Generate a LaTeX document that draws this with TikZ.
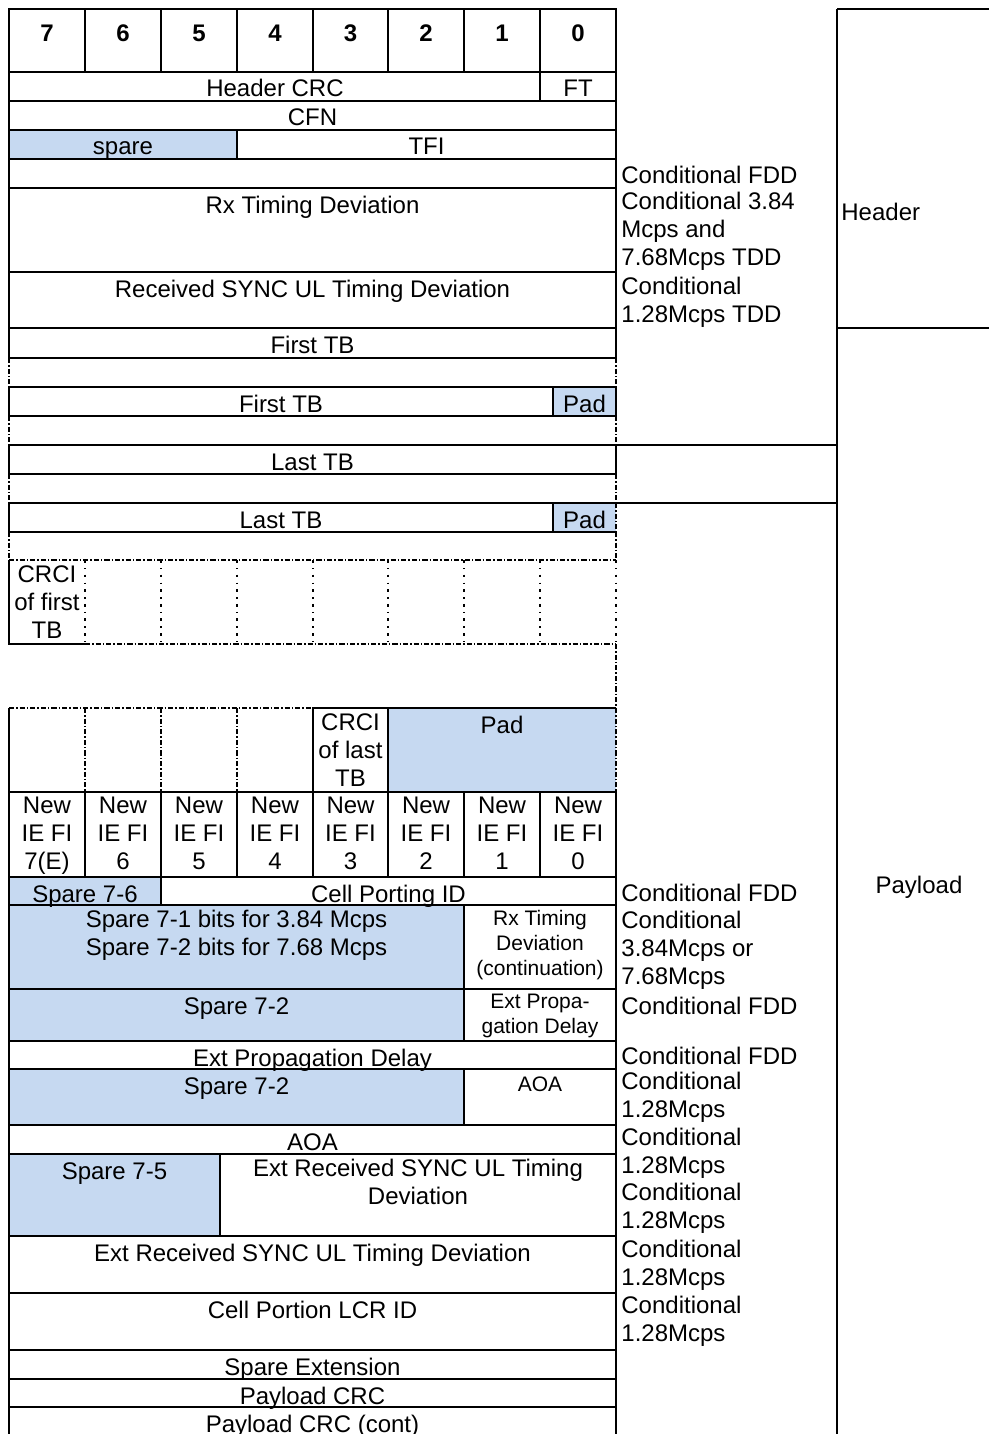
\documentclass[tikz,border=0pt]{standalone}
\usepackage{fontspec}
\setmainfont{Liberation Sans}
\usetikzlibrary{positioning}
\definecolor{sparefill}{RGB}{198,217,241}

\begin{document}
\begin{tikzpicture}[x=0.5pt, y=-0.5pt,
    grid/.style={line width=0.75pt},
    dashdot/.style={line width=0.85pt, dash pattern=on 2.6pt off 1pt on 0.7pt off 1pt},
    faint/.style={line width=0.7pt, dash pattern=on 1.4pt off 2.6pt on 0.7pt off 2.6pt},
    sparecell/.style={fill=sparefill},
    lbl/.style={font=\fontsize{12}{14}\selectfont, inner sep=0pt, anchor=north, align=center, execute at begin node=\strut},
    lblsmall/.style={lbl, font=\fontsize{10.5}{12.5}\selectfont},
    bitnum/.style={lbl, font=\bfseries\fontsize{12}{14}\selectfont},
    cond/.style={lbl, anchor=north west, align=left}]
    \useasboundingbox (0,0) rectangle (989,1434);
    % Fills
    \fill[sparecell] (9,130) rectangle (237,159);
    \fill[sparecell] (553,387) rectangle (616,416);
    \fill[sparecell] (553,503) rectangle (616,532);
    \fill[sparecell] (388,708) rectangle (616,792);
    \fill[sparecell] (9,877) rectangle (161,905);
    \fill[sparecell] (9,905) rectangle (464,989);
    \fill[sparecell] (9,989) rectangle (464,1041);
    \fill[sparecell] (9,1069) rectangle (464,1125);
    \fill[sparecell] (9,1154) rectangle (220,1236);
    % Header part
    \foreach \xa/\xb/\b in {9/85/7,85/161/6,161/237/5,237/313/4,313/388/3,388/464/2,464/540/1,540/616/0} {
        \draw[grid] (\xa,9) rectangle (\xb,72);
        \node[bitnum] (bit\b) at ({(\xa+\xb)/2},22) {\b};
    }
    \draw[grid] (9,72) rectangle (540,101) (540,72) rectangle (616,101);
    \draw[grid] (9,101) rectangle (616,130);
    \draw[grid] (9,130) rectangle (237,159) (237,130) rectangle (616,159);
    \draw[grid] (9,159) rectangle (616,188);
    \draw[grid] (9,188) rectangle (616,272);
    \draw[grid] (9,272) rectangle (616,328);
    \node[lbl] (hcrc) at (275,77) {Header CRC};
    \node[lbl] (ft) at (578,77) {FT};
    \node[lbl] (cfn) at (312.5,106) {CFN};
    \node[lbl] (spare) at (123,135) {spare};
    \node[lbl] (tfi) at (426.5,135) {TFI};
    \node[lbl] (rxtd) at (312.5,193) {Rx Timing Deviation};
    \node[lbl] (rsync) at (312.5,277) {Received SYNC UL Timing Deviation};
    % Transport blocks
    \draw[grid] (9,328) rectangle (616,358);
    \draw[grid] (9,387) rectangle (553,416) (553,387) rectangle (616,416);
    \draw[grid] (9,445) rectangle (616,474);
    \draw[grid] (616,532) -- (9,532) -- (9,503) -- (616,503) (553,503) -- (553,532);
    \draw[dashdot] (616,503) -- (616,532);
    \foreach \ya/\yb in {358/387,416/445,474/503,532/560} {
        \draw[dashdot] (9,\ya) -- (9,\yb) (616,\ya) -- (616,\yb);
    }
    \node[lbl] (ftba) at (312.5,333) {First TB};
    \node[lbl] (ftbb) at (281,392) {First TB};
    \node[lbl] (pada) at (584.5,392) {Pad};
    \node[lbl] (ltba) at (312.5,450) {Last TB};
    \node[lbl] (ltbb) at (281,508) {Last TB};
    \node[lbl] (padb) at (584.5,508) {Pad};
    % CRC indicators
    \draw[dashdot] (9,560) -- (616,560) (85,644) -- (616,644);
    \draw[grid] (9,560) -- (9,644) -- (85,644);
    \foreach \x in {85,161,237,313,388,464,540,616} {
        \draw[faint] (\x,560) -- (\x,644);
    }
    \draw[dashdot] (616,644) -- (616,708);
    \draw[dashdot] (9,708) -- (313,708);
    \draw[grid] (9,708) -- (9,792) (313,708) -- (616,708) (313,708) rectangle (388,792);
    \foreach \x in {85,161,237} {
        \draw[dashdot] (\x,708) -- (\x,792);
    }
    \draw[dashdot] (616,708) -- (616,792);
    \node[lbl] (crcif) at (47,565) {CRCI\\of first\\TB};
    \node[lbl] (crcil) at (350.5,713) {CRCI\\of last\\TB};
    \node[lbl] (padc) at (502,713) {Pad};
    % New IE flags
    \foreach \xa/\xb/\n/\t in {9/85/7/7(E),85/161/6/6,161/237/5/5,237/313/4/4,313/388/3/3,388/464/2/2,464/540/1/1,540/616/0/0} {
        \draw[grid] (\xa,792) rectangle (\xb,877);
        \node[lbl] (nie\n) at ({(\xa+\xb)/2},797) {New\\IE FI\\\t};
    }
    % Optional fields
    \draw[grid] (9,877) rectangle (161,905) (161,877) rectangle (616,905);
    \draw[grid] (9,905) rectangle (464,989) (464,905) rectangle (616,989);
    \draw[grid] (9,989) rectangle (464,1041) (464,989) rectangle (616,1041);
    \draw[grid] (9,1041) rectangle (616,1069);
    \draw[grid] (9,1069) rectangle (464,1125) (464,1069) rectangle (616,1125);
    \draw[grid] (9,1125) rectangle (616,1154);
    \draw[grid] (9,1154) rectangle (220,1236) (220,1154) rectangle (616,1236);
    \draw[grid] (9,1236) rectangle (616,1293);
    \draw[grid] (9,1293) rectangle (616,1350);
    \draw[grid] (9,1350) rectangle (616,1379);
    \draw[grid] (9,1379) rectangle (616,1407);
    \draw[grid] (9,1407) -- (9,1434) (616,1407) -- (616,1434);
    \node[lbl] (spsix) at (85,882) {Spare 7-6};
    \node[lbl] (cpid) at (388.5,882) {Cell Porting ID};
    \node[lbl] (spone) at (236.5,910) {Spare 7-1 bits for 3.84 Mcps\\Spare 7-2 bits for 7.68 Mcps};
    \node[lblsmall] (rxcont) at (540,910) {Rx Timing\\Deviation\\(continuation)};
    \node[lbl] (sptwoa) at (236.5,994) {Spare 7-2};
    \node[lblsmall] (epda) at (540,994) {Ext Propa-\\gation Delay};
    \node[lbl] (epd) at (312.5,1046) {Ext Propagation Delay};
    \node[lbl] (sptwob) at (236.5,1074) {Spare 7-2};
    \node[lblsmall] (aoaa) at (540,1074) {AOA};
    \node[lbl] (aoa) at (312.5,1130) {AOA};
    \node[lbl] (spfive) at (114.5,1159) {Spare 7-5};
    \node[lbl] (ersa) at (418,1159) {Ext Received SYNC UL Timing\\Deviation};
    \node[lbl] (ers) at (312.5,1241) {Ext Received SYNC UL Timing Deviation};
    \node[lbl] (cplcr) at (312.5,1298) {Cell Portion LCR ID};
    \node[lbl] (spext) at (312.5,1355) {Spare Extension};
    \node[lbl] (pcrc) at (312.5,1384) {Payload CRC};
    \node[lbl] (pcrcc) at (312.5,1412) {Payload CRC (cont)};
    % Conditions
    \node[cond] (cfdd) at (621,164) {Conditional FDD};
    \node[cond] (ctdd) at (621,192) {Conditional 3.84\\Mcps and\\7.68Mcps TDD};
    \node[cond] (clcr) at (621,277) {Conditional\\1.28Mcps TDD};
    \node[cond] (pfdda) at (621,881) {Conditional FDD};
    \node[cond] (pmcps) at (621,911) {Conditional\\3.84Mcps or\\7.68Mcps};
    \node[cond] (pfddb) at (621,994) {Conditional FDD};
    \node[cond] (pfddc) at (621,1044) {Conditional FDD};
    \node[cond] (plcra) at (621,1072) {Conditional\\1.28Mcps};
    \node[cond] (plcrb) at (621,1128) {Conditional\\1.28Mcps};
    \node[cond] (plcrc) at (621,1183) {Conditional\\1.28Mcps};
    \node[cond] (plcrd) at (621,1240) {Conditional\\1.28Mcps};
    \node[cond] (plcre) at (621,1296) {Conditional\\1.28Mcps};
    % Frame parts
    \draw[grid] (837,9) -- (837,1434) (837,9) -- (989,9) (837,328) -- (989,328);
    \draw[grid] (616,445) -- (837,445) (616,503) -- (837,503);
    \node[cond] (hdr) at (841,200) {Header};
    \node[lbl] (pld) at (919,873) {Payload};
\end{tikzpicture}
\end{document}
